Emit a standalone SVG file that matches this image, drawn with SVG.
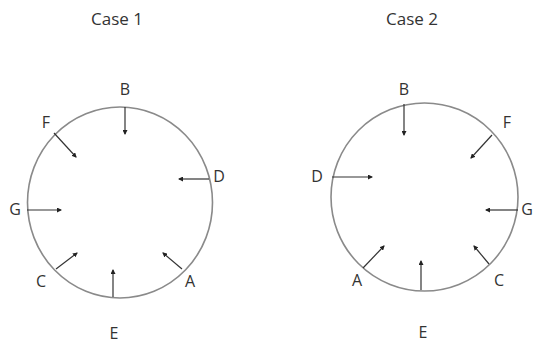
<svg xmlns="http://www.w3.org/2000/svg" width="535" height="343" viewBox="0 0 535 343">
<defs>
<marker id="ah" viewBox="0 0 10 10" refX="8" refY="5" markerWidth="5" markerHeight="5" orient="auto" markerUnits="userSpaceOnUse">
<path d="M0,0 L10,5 L0,10 z" fill="#222"/>
</marker>
</defs>
<style>
.ring{fill:none;stroke:#8a8a8a;stroke-width:1.6}
.arr{stroke:#333;stroke-width:1.2;fill:none;marker-end:url(#ah)}
text{font-family:"Open Sans","Liberation Sans",sans-serif;font-size:16px;fill:#333;text-anchor:middle;dominant-baseline:central}
.title{font-size:17px}
</style>
<rect width="535" height="343" fill="#fff"/>
<text class="title" x="117" y="18">Case 1</text>
<text class="title" x="412" y="18">Case 2</text>
<g id="case1">
<ellipse id="circle1" class="ring" cx="120" cy="202.5" rx="92.5" ry="95.5"/>
<g id="c1-B"><text x="125" y="89">B</text></g>
<g id="c1-F"><text x="46" y="122">F</text></g>
<g id="c1-D"><text x="219" y="176">D</text></g>
<g id="c1-G"><text x="15" y="209">G</text></g>
<g id="c1-C"><text x="41" y="281">C</text></g>
<g id="c1-E"><text x="114" y="333">E</text></g>
<g id="c1-A"><text x="190" y="281">A</text></g>
</g>
<g id="case2">
<ellipse id="circle2" class="ring" cx="424.5" cy="197" rx="93.5" ry="94"/>
<g id="c2-B"><text x="404" y="89">B</text></g>
<g id="c2-F"><text x="507" y="122">F</text></g>
<g id="c2-D"><text x="317" y="176">D</text></g>
<g id="c2-G"><text x="527" y="209">G</text></g>
<g id="c2-C"><text x="499" y="280">C</text></g>
<g id="c2-E"><text x="423" y="332">E</text></g>
<g id="c2-A"><text x="357" y="280">A</text></g>
</g>
<g id="connectors">
<line class="arr" x1="125" y1="107" x2="125" y2="134"/>
<line class="arr" x1="54" y1="133" x2="76" y2="157"/>
<line class="arr" x1="209" y1="179" x2="179" y2="179"/>
<line class="arr" x1="27" y1="210" x2="61" y2="210"/>
<line class="arr" x1="56" y1="269" x2="77" y2="253"/>
<line class="arr" x1="113" y1="297" x2="113" y2="270"/>
<line class="arr" x1="182" y1="269" x2="163" y2="253"/>
<line class="arr" x1="404" y1="104" x2="404" y2="135"/>
<line class="arr" x1="492" y1="135" x2="471" y2="158"/>
<line class="arr" x1="332" y1="177" x2="372" y2="177"/>
<line class="arr" x1="518" y1="210" x2="486" y2="210"/>
<line class="arr" x1="489" y1="264" x2="474" y2="246"/>
<line class="arr" x1="421" y1="290" x2="421" y2="261"/>
<line class="arr" x1="363" y1="268" x2="384" y2="246"/>
</g>
</svg>
